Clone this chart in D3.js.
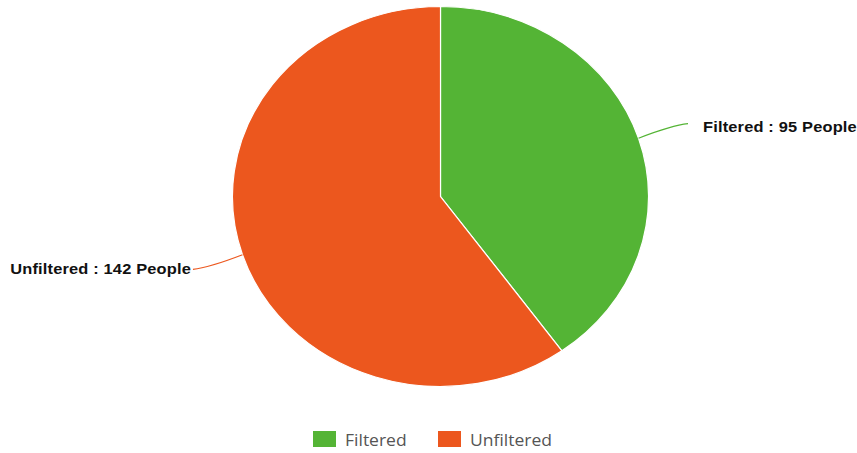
<!DOCTYPE html>
<html>
<head>
<meta charset="utf-8">
<script src="https://cdn.jsdelivr.net/npm/d3@7"></script>
<style>
  html, body { margin: 0; padding: 0; background: #fff; }
  svg { display: block; }
</style>
</head>
<body>
<svg id="chart" width="857" height="453"></svg>
<script>
// Data
const categories = ["Filtered", "Unfiltered"];
const people = [95, 142];
const colors = ["#54b435", "#ec571e"];

const width = 857, height = 453;
const cx = 440.5, cy = 196.5;
const radius = 190;
const stretchX = 1.095; // horizontal stretch applied to the drawing

const svg = d3.select("#chart");

const pie = d3.pie().sort(null).value(d => d.value);
const arcs = pie(categories.map((c, i) => ({ name: c, value: people[i], color: colors[i] })));

const arc = d3.arc().innerRadius(0).outerRadius(radius);

const g = svg.append("g").attr("transform", `translate(${cx},${cy})`);

g.append("g")
  .attr("transform", `scale(${stretchX},1)`)
  .selectAll("path")
  .data(arcs)
  .join("path")
  .attr("d", arc)
  .attr("fill", d => d.data.color)
  .attr("stroke", "#ffffff")
  .attr("stroke-width", 1.2)
  .attr("vector-effect", "non-scaling-stroke");

// Leader lines and labels
function pt(angle, r) {
  return [Math.sin(angle) * r * stretchX, -Math.cos(angle) * r];
}

arcs.forEach(d => {
  const mid = (d.startAngle + d.endAngle) / 2;
  const p0 = pt(mid, radius);
  const p2 = pt(mid, radius * 1.25);
  const pc = [pt(mid, radius * 1.17)[0], (pt(mid, radius * 1.17)[1] + p2[1] * 2) / 3];
  const right = p2[0] > 0;
  g.append("path")
    .attr("d", `M${p0[0]},${p0[1]}Q${pc[0]},${pc[1]} ${p2[0]},${p2[1]}`)
    .attr("fill", "none")
    .attr("stroke", d.data.color)
    .attr("stroke-width", 1.2);
  const tx = right ? p2[0] + 15 : p2[0] - 2;
  const ty = p2[1] + (right ? 8 : 5);
  g.append("text")
    .attr("transform", `translate(${tx},${ty}) scale(${stretchX},1)`)
    .attr("text-anchor", right ? "start" : "end")
    .attr("font-family", "'Liberation Sans', Arial, sans-serif")
    .attr("font-weight", "bold")
    .attr("font-size", 15)
    .attr("letter-spacing", 0.15)
    .attr("fill", "#111")
    .text(`${d.data.name} : ${d.data.value} People`);
});

// Legend
const legend = svg.append("g").attr("transform", "translate(313,431)");
const legendX = [0, 125];
categories.forEach((c, i) => {
  const item = legend.append("g").attr("transform", `translate(${legendX[i]},0)`);
  item.append("rect")
    .attr("width", 23).attr("height", 16)
    .attr("fill", colors[i]);
  item.append("text")
    .attr("transform", `translate(32,15) scale(${stretchX},1)`)
    .attr("font-family", "'Open Sans', sans-serif")
    .attr("font-size", 16)
    .attr("fill", "#555")
    .text(c);
});
</script>
</body>
</html>
